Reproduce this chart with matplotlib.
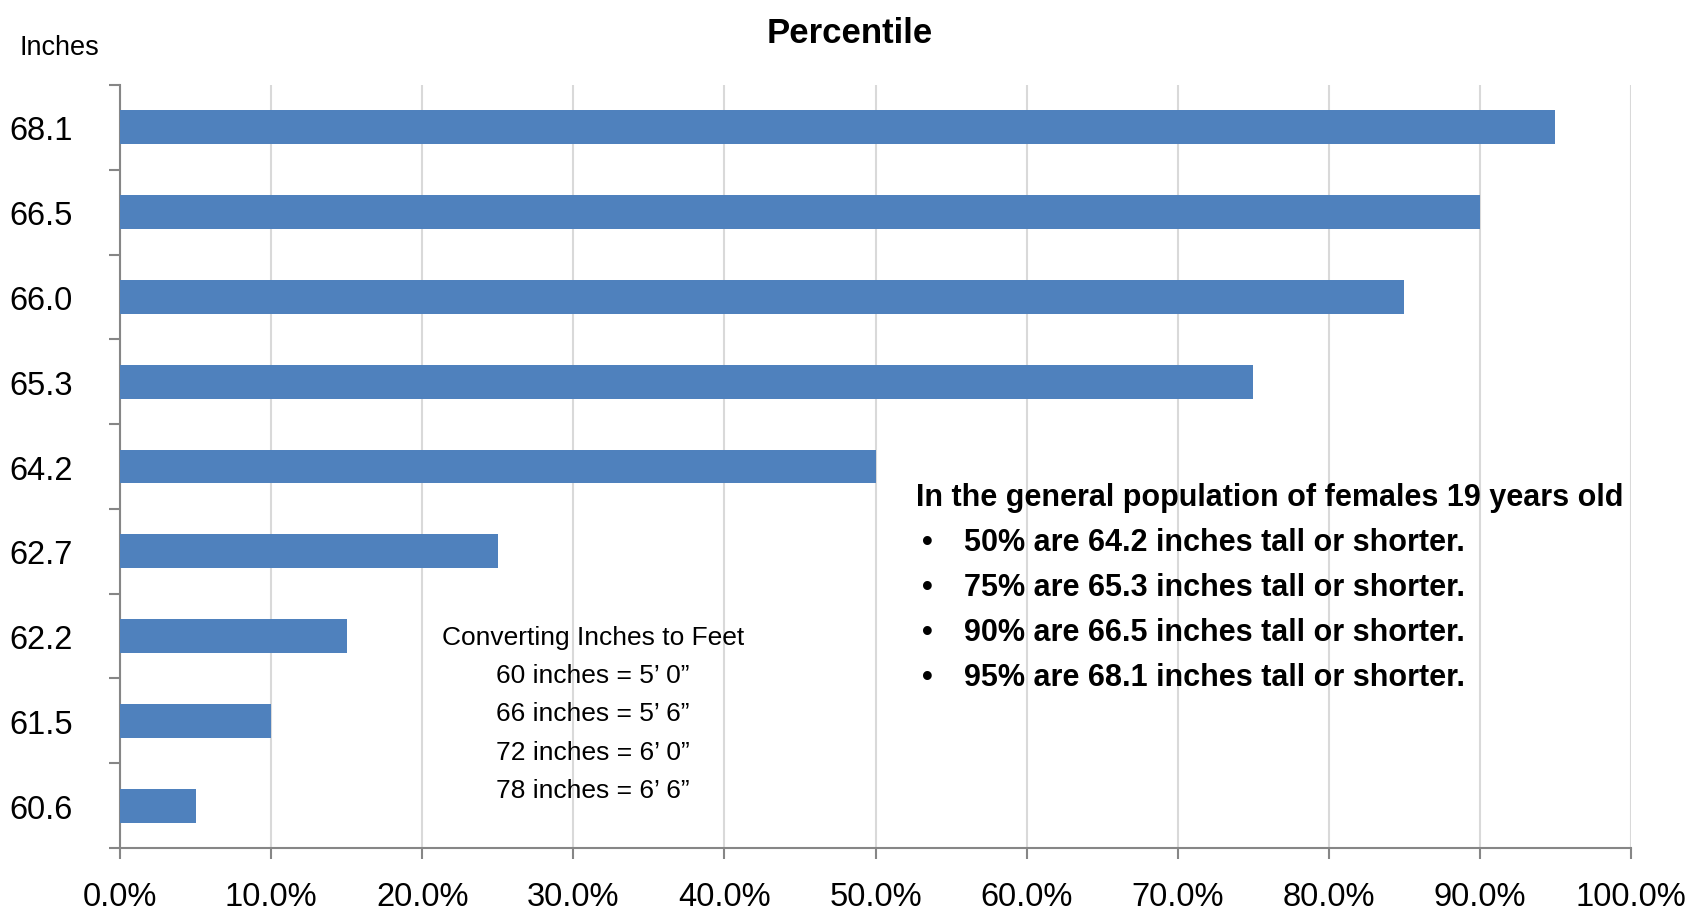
import matplotlib
matplotlib.use('Agg')
import matplotlib.pyplot as plt
from matplotlib.ticker import FixedLocator, PercentFormatter

plt.rcParams['font.family'] = ['Liberation Sans Narrow', 'Liberation Sans', 'DejaVu Sans']

# dados
alturas = ['60.6', '61.5', '62.2', '62.7', '64.2', '65.3', '66.0', '66.5', '68.1']
percentis = [5, 10, 15, 25, 50, 75, 85, 90, 95]
marcas_x = [0, 10, 20, 30, 40, 50, 60, 70, 80, 90, 100]
resumo = [(50, '64.2'), (75, '65.3'), (90, '66.5'), (95, '68.1')]
conversao = ['60 inches = 5\u2019 0\u201d', '66 inches = 5\u2019 6\u201d',
             '72 inches = 6\u2019 0\u201d', '78 inches = 6\u2019 6\u201d']

W, H = 1699, 912
fig = plt.figure(figsize=(W / 100, H / 100), dpi=100)
ax = fig.add_axes([120 / W, 1 - 849 / H, (1631 - 120) / W, (849 - 86) / H])

cor_barra = '#4F81BD'
cor_eixo = '#868686'
ax.barh(range(len(alturas)), percentis, height=0.4, color=cor_barra, zorder=3)

ax.set_xlim(0, 100)
ax.set_ylim(-0.5, len(alturas) - 0.5)
ax.set_xticks(marcas_x)
ax.xaxis.set_major_formatter(PercentFormatter(decimals=1))
ax.set_yticks(range(len(alturas)))
ax.set_yticklabels(alturas)
ax.yaxis.set_minor_locator(FixedLocator([i - 0.5 for i in range(len(alturas) + 1)]))

ax.grid(axis='x', color='#D9D9D9', linewidth=1.5, zorder=0)
for lado in ['top', 'right']:
    ax.spines[lado].set_visible(False)
for lado in ['left', 'bottom']:
    ax.spines[lado].set_color(cor_eixo)
    ax.spines[lado].set_linewidth(1.5)

ax.tick_params(axis='x', length=8, width=1.5, color=cor_eixo, labelsize=23.5, pad=16)
ax.tick_params(axis='y', which='major', length=0, labelsize=23.5, pad=34)
ax.tick_params(axis='y', which='minor', length=8, width=1.5, color=cor_eixo)

fig.text(849.5 / W, 1 - 43 / H, 'Percentile', ha='center', va='baseline',
         fontsize=25, fontweight='bold')
fig.text(20 / W, 1 - 55 / H, 'Inches', ha='left', va='baseline', fontsize=19.5)

# caixa de conversao
fig.text(593 / W, 1 - 645 / H, 'Converting Inches to Feet', ha='center', va='baseline', fontsize=19)
for i, linha in enumerate(conversao):
    fig.text(593 / W, 1 - (683 + 38.3 * i) / H, linha, ha='center', va='baseline', fontsize=19)

# texto em negrito
fig.text(916 / W, 1 - 506 / H, 'In the general population of females 19 years old',
         ha='left', va='baseline', fontsize=22, fontweight='bold')
for i, (p, alt) in enumerate(resumo):
    y = 1 - (551 + 45 * i) / H
    fig.text(922 / W, y, '\u2022', ha='left', va='baseline', fontsize=22, fontweight='bold')
    fig.text(964 / W, y, f'{p}% are {alt} inches tall or shorter.',
             ha='left', va='baseline', fontsize=22, fontweight='bold')

fig.savefig('out.png', dpi=100)
